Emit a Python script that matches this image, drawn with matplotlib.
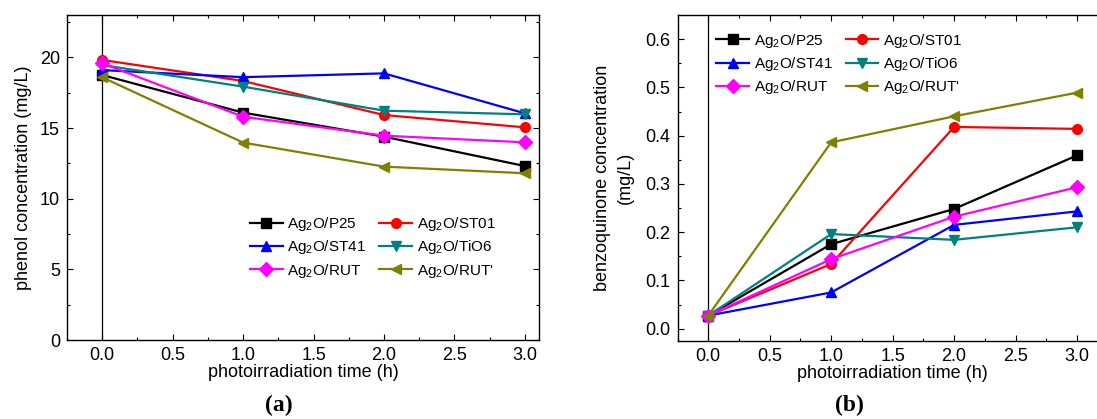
import matplotlib
matplotlib.use("Agg")
import matplotlib.pyplot as plt
from matplotlib.ticker import MultipleLocator, AutoMinorLocator

plt.rcParams['font.family'] = ['Liberation Sans', 'DejaVu Sans']
plt.rcParams['mathtext.fontset'] = 'custom'
plt.rcParams['mathtext.rm'] = 'Liberation Sans'
plt.rcParams['mathtext.it'] = 'Liberation Sans'
plt.rcParams['mathtext.default'] = 'regular'

time = [0.0, 1.0, 2.0, 3.0]
labels = ["Ag$_2$O/P25", "Ag$_2$O/ST01", "Ag$_2$O/ST41",
          "Ag$_2$O/TiO6", "Ag$_2$O/RUT", "Ag$_2$O/RUT'"]
colors = ["black", "#FF0000", "#0000FF", "#008080", "#FF00FF", "#808000"]
markers = ["s", "o", "^", "v", "D", "<"]

phenol_P25 = [18.75, 16.09, 14.39, 12.31]
phenol_ST01 = [19.82, 18.33, 15.92, 15.05]
phenol_ST41 = [19.10, 18.60, 18.87, 16.04]
phenol_TiO6 = [19.46, 17.93, 16.23, 15.97]
phenol_RUT = [19.58, 15.80, 14.46, 13.99]
phenol_RUTp = [18.59, 13.97, 12.27, 11.80]

bq_P25 = [0.027, 0.175, 0.248, 0.359]
bq_ST01 = [0.027, 0.134, 0.418, 0.414]
bq_ST41 = [0.027, 0.075, 0.215, 0.243]
bq_TiO6 = [0.027, 0.196, 0.184, 0.210]
bq_RUT = [0.027, 0.144, 0.232, 0.293]
bq_RUTp = [0.027, 0.386, 0.440, 0.489]

phenol = [phenol_P25, phenol_ST01, phenol_ST41, phenol_TiO6, phenol_RUT, phenol_RUTp]
bq = [bq_P25, bq_ST01, bq_ST41, bq_TiO6, bq_RUT, bq_RUTp]

W, H = 1097, 419
fig = plt.figure(figsize=(W / 100, H / 100), dpi=100)

ax1 = fig.add_axes([67 / W, (H - 340) / H, 472 / W, 325 / H])
ax2 = fig.add_axes([677.5 / W, (H - 340.7) / H, 430.2 / W, 325.7 / H])

FS = 13
LFS = 11

def draw(ax, data):
    handles = []
    for d, lab, c, m in zip(data, labels, colors, markers):
        ms = 7.5 if m in ("^", "v", "<") else 7
        h, = ax.plot(time, d, color=c, marker=m, markersize=ms, lw=1.6,
                     label=lab, markeredgecolor=c, markerfacecolor=c)
        handles.append(h)
    ax.axvline(0, color="black", lw=0.9, zorder=0)
    ax.xaxis.set_major_locator(MultipleLocator(0.5))
    ax.xaxis.set_minor_locator(AutoMinorLocator(2))
    ax.yaxis.set_minor_locator(AutoMinorLocator(2))
    ax.tick_params(which="both", direction="in", top=True, right=True,
                   labelsize=FS, width=0.8)
    ax.tick_params(which="major", length=4, pad=5)
    ax.tick_params(which="minor", length=2.5)
    for s in ax.spines.values():
        s.set_linewidth(1.0)
    ax.set_xlabel("photoirradiation time (h)", fontsize=FS, labelpad=0)
    return handles

leg_kw = dict(ncol=2, frameon=False, fontsize=LFS, loc="center",
              handlelength=2.15, handletextpad=0.3, columnspacing=0.85,
              labelspacing=0.35)

h1 = draw(ax1, phenol)
ax1.set_xlim(-0.25, 3.1)
ax1.set_ylim(0, 23)
ax1.yaxis.set_major_locator(MultipleLocator(5))
ax1.set_ylabel("phenol concentration (mg/L)", fontsize=FS, labelpad=6)
order = [0, 2, 4, 1, 3, 5]
ax1.legend([h1[i] for i in order], [labels[i] for i in order],
           bbox_to_anchor=(0.648, 0.285), **leg_kw)

h2 = draw(ax2, bq)
ax2.set_xlim(-0.25, 3.25)
ax2.set_ylim(-0.025, 0.65)
ax2.yaxis.set_major_locator(MultipleLocator(0.1))
ax2.yaxis.set_major_formatter(matplotlib.ticker.FormatStrFormatter("%.1f"))
ax2.set_ylabel("benzoquinone concentration\n(mg/L)", fontsize=FS, labelpad=8,
               linespacing=1.45)
ax2.legend([h2[i] for i in order], [labels[i] for i in order],
           bbox_to_anchor=(0.3755, 0.85), **leg_kw)

fig.text(279 / W, 1 - 405 / H, "(a)", ha="center", va="center", fontsize=17,
         family="Liberation Serif", fontweight="bold")
fig.text(849 / W, 1 - 405 / H, "(b)", ha="center", va="center", fontsize=17,
         family="Liberation Serif", fontweight="bold")

fig.savefig("out.png", dpi=100)
